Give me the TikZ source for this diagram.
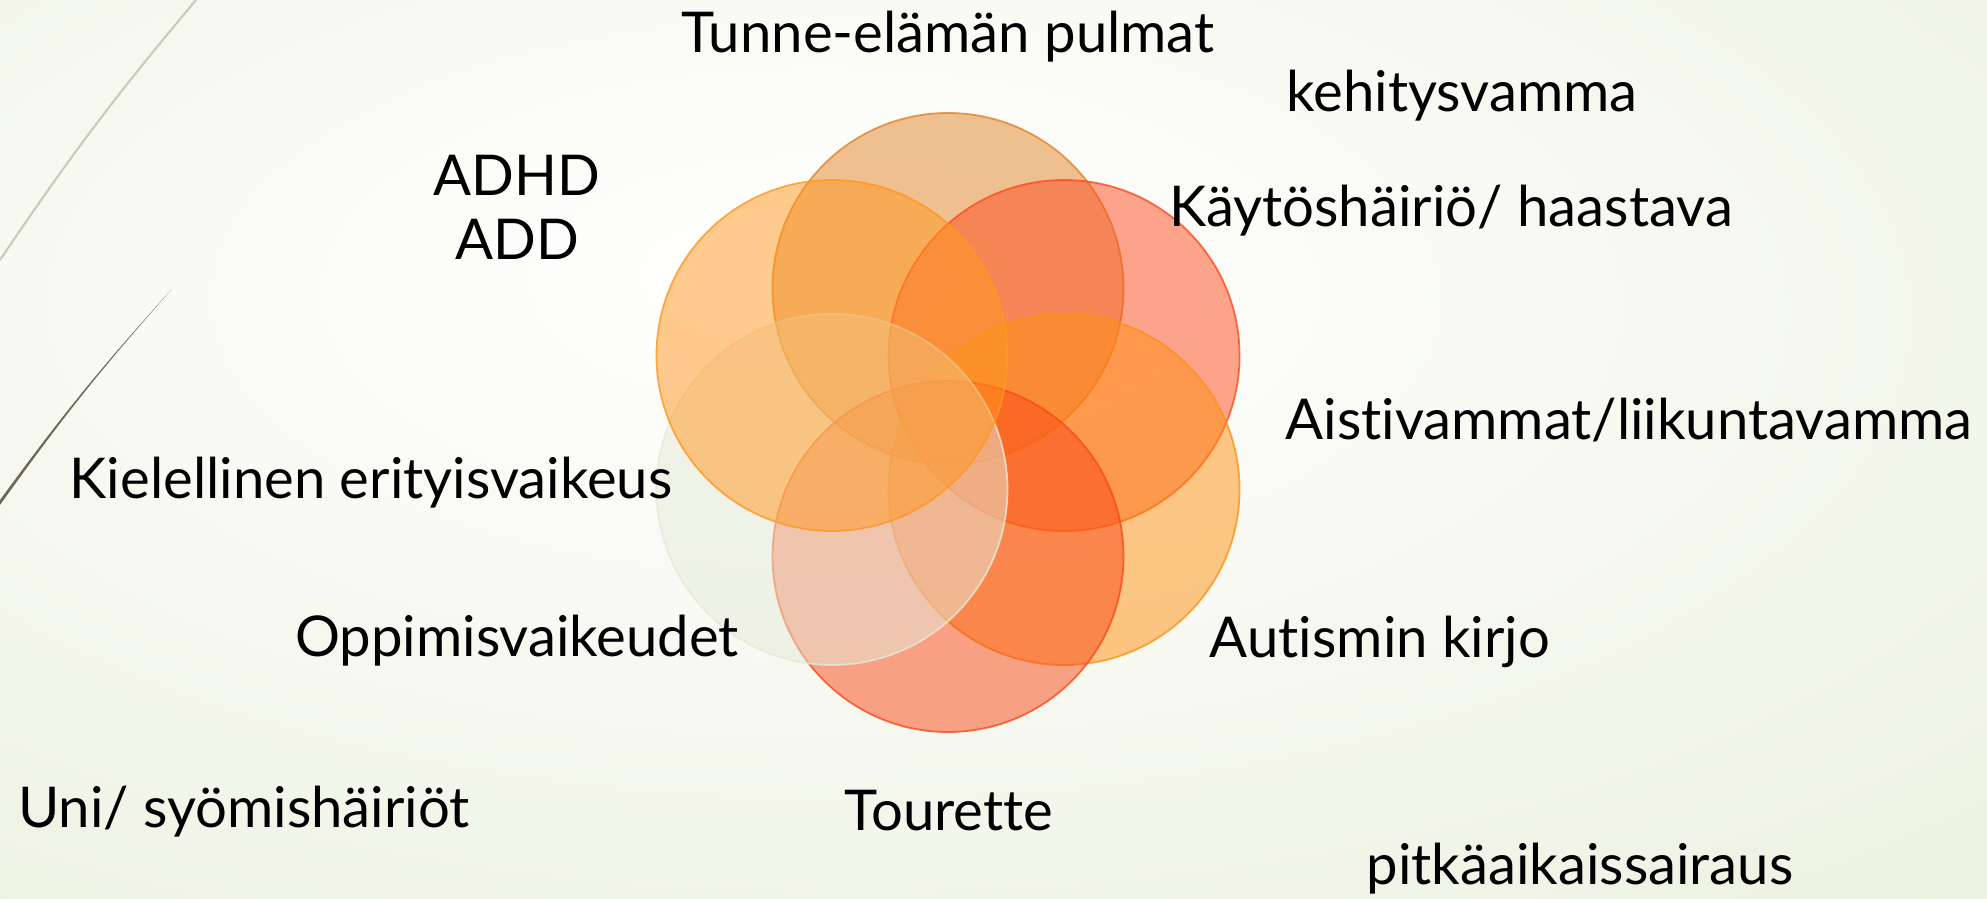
\documentclass[tikz,border=0pt]{standalone}
\usepackage{fontspec}
\setmainfont{Lato}[Ligatures=NoCommon]
\usepackage{tikz}
\usepackage{xcolor}
\usetikzlibrary{calc}

\definecolor{ctop}{RGB}{226,131,38}
\definecolor{cur}{RGB}{254,75,30}
\definecolor{clr}{RGB}{255,145,18}
\definecolor{cbot}{RGB}{250,73,24}
\definecolor{cll}{RGB}{229,234,215}
\definecolor{cul}{RGB}{255,151,30}
\definecolor{bgA}{RGB}{250,251,246}
\definecolor{bgB}{RGB}{235,240,222}
\definecolor{bgC}{RGB}{222,231,198}
\definecolor{wispA}{RGB}{200,203,184}
\definecolor{wispB}{RGB}{110,104,85}
\pgfdeclareradialshading{slidebg}{\pgfpoint{-5bp}{10bp}}{color(0bp)=(white); color(14bp)=(bgA); color(45bp)=(bgB); color(65bp)=(bgC); color(100bp)=(bgC)}

\begin{document}
\begin{tikzpicture}[scale=1.0, line width=1pt,
    venn/.style={fill opacity=0.5, draw opacity=0.8, line width=0.5pt},
    term/.style={anchor=base, inner sep=0pt, font=\fontsize{16pt}{18pt}\selectfont}]
        \shade[shading=slidebg] (0,0) rectangle (19.87,8.98);
        \useasboundingbox (0,0) rectangle (19.87,8.98);
        \draw[wispA, line width=0.6pt] (0,6.38) to[bend left=3] (1.96,8.98);
        \fill[wispB] (0,3.93) to[bend left=3] (1.72,6.09) to[bend right=3] (0,3.98) -- cycle;
        \coordinate (ctr) at (9.48,4.755);
        \foreach \ang/\col in {90/ctop, 30/cur, -30/clr, -90/cbot, -150/cll, 150/cul}
            \draw[venn, draw=\col, fill=\col] (ctr) ++(\ang:1.34) circle (1.755);
        \node[term] (tunne) at (9.48,8.45) {Tunne-elämän pulmat};
        \node[term] (kehitys) at (14.62,7.86) {kehitysvamma};
        \node[term] (adhd) at (5.17,7.02) {ADHD};
        \node[term] (add) at (5.17,6.38) {ADD};
        \node[term] (kaytos) at (14.51,6.71) {Käytöshäiriö/ haastava};
        \node[term] (aisti) at (16.29,4.58) {Aistivammat/liikuntavamma};
        \node[term] (kieli) at (3.71,3.99) {Kielellinen erityisvaikeus};
        \node[term] (oppi) at (5.17,2.41) {Oppimisvaikeudet};
        \node[term] (autismi) at (13.80,2.40) {Autismin kirjo};
        \node[term] (uni) at (2.44,0.71) {Uni/ syömishäiriöt};
        \node[term] (tourette) at (9.49,0.68) {Tourette};
        \node[term] (pitka) at (15.80,0.14) {pitkäaikaissairaus};
    \end{tikzpicture}
\end{document}
